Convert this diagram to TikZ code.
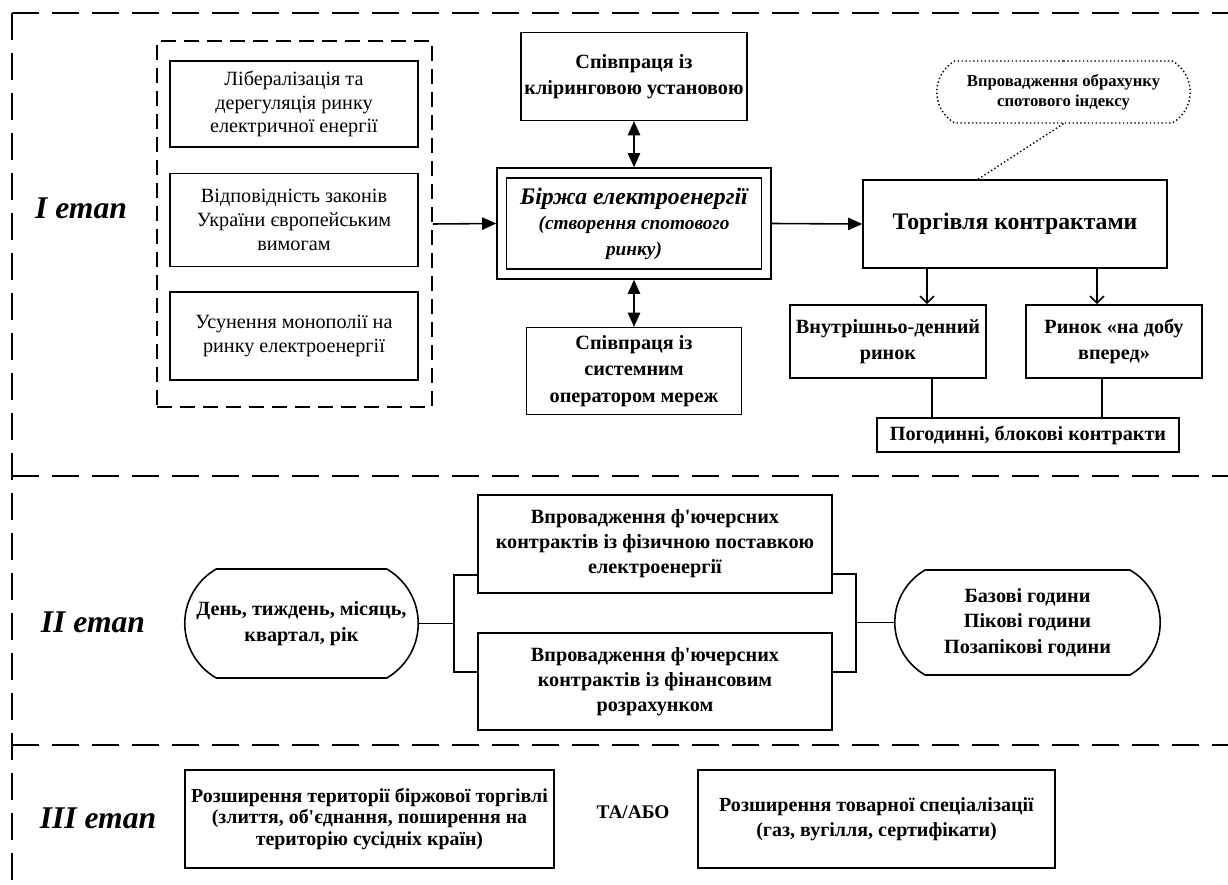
\documentclass[tikz,border=0pt]{standalone}
\usepackage{fontspec}
\setmainfont{Liberation Serif}[Ligatures=TeXOff]
\usetikzlibrary{arrows.meta, calc, positioning, shapes.misc}

\begin{document}
\begin{tikzpicture}[
    x=0.02cm, y=-0.02cm,
    >={Straight Barb[length=4pt, width=8pt]},
    block/.style={rectangle, draw, line width=0.9pt, align=center, inner sep=1pt,
        font=\fontsize{11.5}{15}\selectfont\bfseries},
    plainblock/.style={block, font=\fontsize{11.5}{13.6}\selectfont},
    oval/.style={rounded rectangle, rounded rectangle arc length=120, draw,
        line width=0.9pt, align=center, inner sep=1pt,
        font=\fontsize{11.5}{14.5}\selectfont\bfseries},
    stagelabel/.style={font=\fontsize{18}{20}\selectfont\bfseries\itshape},
    stageline/.style={line width=1pt, dash pattern=on 0.54cm off 0.26cm},
    dotline/.style={line width=0.8pt, dash pattern=on 0.8pt off 1.4pt},
    flow/.style={line width=0.9pt, -{Triangle[length=8pt, width=7pt]}},
    twoway/.style={line width=0.9pt,
        {Triangle[length=8pt, width=7pt]}-{Triangle[length=8pt, width=7pt]}},
    link/.style={line width=0.9pt}
]
    \useasboundingbox (0,0) rectangle (1228,885);

    % Stages -----------------------------------------------------

    \draw[stageline] (12,13) -- (1228,13);
    \draw[stageline] (12,13) -- (12,885);
    \draw[stageline] (12,476) -- (1228,476);
    \draw[stageline] (12,745) -- (1228,745);

    \node[stagelabel] (st1) at (81,208) {I етап};
    \node[stagelabel] (st2) at (93,622) {II етап};
    \node[stagelabel] (st3) at (98,818) {III етап};

    % Nodes ------------------------------------------------------

    % stage I
    \node[draw, line width=0.9pt, dash pattern=on 0.3cm off 0.16cm,
        minimum width=5.5cm, minimum height=7.32cm] (grp) at (294.5,224) {};
    \node[plainblock, minimum width=4.96cm, minimum height=1.72cm] (lib1) at (294,104)
        {Лібералізація та\\дерегуляція ринку\\електричної енергії};
    \node[plainblock, minimum width=4.96cm, minimum height=1.86cm, below=0.5cm of lib1] (lib2)
        {Відповідність законів\\України  європейським\\вимогам};
    \node[plainblock, minimum width=4.96cm, minimum height=1.76cm, below=0.48cm of lib2] (lib3)
        {Усунення монополії на\\ринку електроенергії};

    \node[block, minimum width=5.48cm, minimum height=2.22cm] (exchout) at (634,223.5) {};
    \node[block, minimum width=5.1cm, minimum height=1.82cm,
        font=\fontsize{11}{14.5}\selectfont\bfseries\itshape] (exch) at (634,223.5)
        {{\fontsize{13.5}{15}\selectfont Біржа електроенергії}\\(створення спотового\\ринку)};
    \node[block, minimum width=4.52cm, minimum height=1.76cm, above=0.92cm of exchout] (clear)
        {Співпраця із\\кліринговою установою};
    \node[block, minimum width=4.3cm, minimum height=1.74cm, below=0.94cm of exchout] (tso)
        {Співпраця із\\системним\\оператором мереж};

    \node[block, minimum width=6.08cm, minimum height=1.76cm,
        font=\fontsize{13.5}{16}\selectfont\bfseries] (trade) at (1015,224) {Торгівля контрактами};
    \node[oval, dotline, minimum width=5.14cm, minimum height=1.24cm,
        font=\fontsize{9.5}{11.5}\selectfont\bfseries] (note) at (1063.5,92)
        {Впровадження обрахунку\\спотового індексу};
    \node[block, minimum width=3.92cm, minimum height=1.46cm] (intra) at (888,341.5)
        {Внутрішньо-денний\\ринок};
    \node[block, minimum width=3.52cm, minimum height=1.46cm] (dam) at (1114,341.5)
        {Ринок «на добу\\вперед»};
    \node[block, minimum width=6.04cm, minimum height=0.68cm] (hourly) at (1028,435)
        {Погодинні, блокові контракти};

    % stage II
    \node[oval, minimum width=4.74cm, minimum height=2.18cm] (days) at (301.5,623.5)
        {День, тиждень, місяць,\\квартал, рік};
    \node[block, minimum width=7.08cm, minimum height=1.96cm, font=\fontsize{11.5}{14.2}\selectfont\bfseries]
        (fut1) at (655,544) {Впровадження ф'ючерсних\\контрактів із фізичною поставкою\\електроенергії};
    \node[block, minimum width=7.08cm, minimum height=1.94cm, font=\fontsize{11.5}{14.2}\selectfont\bfseries]
        (fut2) at (655,681.5) {Впровадження ф'ючерсних\\контрактів із фінансовим\\розрахунком};
    \node[oval, minimum width=5.38cm, minimum height=2.1cm] (hours) at (1027.5,622.5)
        {Базові години\\Пікові години\\Позапікові години};

    % stage III
    \node[block, minimum width=7.38cm, minimum height=1.96cm, font=\fontsize{11.3}{12}\selectfont\bfseries]
        (ext1) at (369.5,819) {Розширення території біржової торгівлі\\(злиття, об'єднання, поширення на\\територію сусідніх країн)};
    \node[font=\fontsize{11}{12}\selectfont\bfseries] (andor) at (633,812) {ТА/АБО};
    \node[block, minimum width=7.14cm, minimum height=1.96cm, font=\fontsize{11.4}{14}\selectfont\bfseries]
        (ext2) at (876.5,819) {Розширення товарної спеціалізації\\(газ, вугілля, сертифікати)};

    % Arrows ---------------------------------------------------

    \draw[flow] (grp.east) -- (exchout.west);
    \draw[flow] (exchout.east) -- (trade.west);
    \draw[twoway] (clear.south) -- (exchout.north);
    \draw[twoway] (exchout.south) -- (tso.north);
    \draw[dotline] (note.south) -- ($(trade.north)+(-37,0)$);

    \coordinate (t1) at ($(trade.south)+(-88,0)$);
    \coordinate (t2) at ($(trade.south)+(82,0)$);
    \coordinate (b1) at ($(intra.south)+(44,0)$);
    \coordinate (b2) at ($(dam.south)+(-12,0)$);
    \draw[link, ->] (t1) -- (t1 |- intra.north);
    \draw[link, ->] (t2) -- (t2 |- dam.north);
    \draw[link] (b1) -- (b1 |- hourly.north);
    \draw[link] (b2) -- (b2 |- hourly.north);

    % links
    \draw[link] (days.east) -- ++(35,0) coordinate (jl);
    \draw[link] ($(fut1.west)+(0,31)$) -| (jl) |- ($(fut2.west)+(0,-9.5)$);
    \draw[link] (hours.west) -- ++(-38,0) coordinate (jr);
    \draw[link] ($(fut1.east)+(0,30)$) -| (jr) |- ($(fut2.east)+(0,-9.5)$);

\end{tikzpicture}
\end{document}
